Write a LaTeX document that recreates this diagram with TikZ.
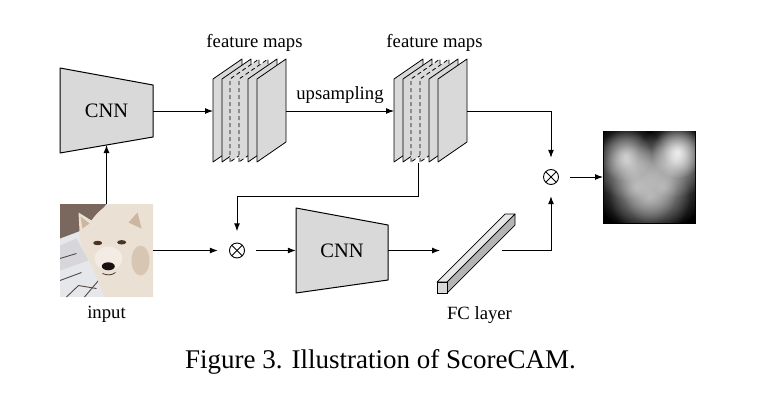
\documentclass[tikz,border=0pt]{standalone}
\usepackage{fontspec}
\setmainfont{Liberation Serif}
\usetikzlibrary{arrows.meta,positioning}
\definecolor{sheetgray}{HTML}{D9D9D9}
\definecolor{topgray}{HTML}{E8E8E8}
\definecolor{sidegray}{HTML}{B4B4B4}
\definecolor{snow}{HTML}{E6E7EB}
\definecolor{bark}{HTML}{7A685E}
\definecolor{fur}{HTML}{EAE0D3}
\definecolor{furshade}{HTML}{CDB6A0}
\definecolor{eyecol}{HTML}{4A3426}
\definecolor{nosecol}{HTML}{17110F}

\begin{document}
\begin{tikzpicture}[x=1pt,y=-1pt,
  lbl/.style={inner sep=0,font=\fontsize{18.7}{22}\selectfont},
  cnnlbl/.style={inner sep=0,font=\fontsize{20.5}{24}\selectfont},
  hold/.style={inner sep=0,outer sep=0},
  arr/.style={line width=1pt,-{Latex[length=8pt,width=6pt]}},
  sheet/.style={fill=sheetgray,draw=black,line width=0.8pt,line join=round},
  dsh/.style={dash pattern=on 4pt off 3pt},
  cnnbox/.style={fill=sheetgray,draw=black,line width=1pt,line join=round},
  mult/.style={circle,inner sep=0,minimum size=38,
    path picture={
      \draw[line width=0.9pt] (path picture bounding box.center) circle[radius=7.5pt];
      \draw[line width=0.9pt] ([shift={(45:7.5pt)}]path picture bounding box.center)
        -- ([shift={(225:7.5pt)}]path picture bounding box.center);
      \draw[line width=0.9pt] ([shift={(135:7.5pt)}]path picture bounding box.center)
        -- ([shift={(315:7.5pt)}]path picture bounding box.center);}},
  twig/.style={draw=bark!70!black,line width=0.9pt}]
  \useasboundingbox (0,0) rectangle (757,415);

  % stacks of feature maps
  \foreach \sx in {213,394}
  \foreach \o/\ls in {0/solid,9/solid,17/dsh,26/dsh,35/solid,44/solid}
  \filldraw[sheet,\ls] (\sx+\o,162) -- ++(0,-83) -- ++(29,-20) -- ++(0,83) -- cycle;
  \node[hold,minimum width=73,minimum height=103] (fm1) at (249.5,111) {};
  \node[hold,minimum width=73,minimum height=103] (fm2) at (430.5,111) {};
  \node[lbl,above=8pt of fm1,xshift=5pt] {feature maps};
  \node[lbl,above=8pt of fm2,xshift=4pt] {feature maps};

  % the two CNNs
  \filldraw[cnnbox] (60,68) -- (153,85) -- (153,137) -- (60,153) -- cycle;
  \node[cnnlbl,minimum width=93,minimum height=52] (cnn1) at (106.5,111) {CNN};
  \coordinate (cnn1in) at (106.5,145);
  \filldraw[cnnbox] (296,208) -- (388,225) -- (388,280) -- (296,293) -- cycle;
  \node[cnnlbl,minimum width=92,minimum height=55] (cnn2) at (342,250.5) {CNN};

  % input picture
  \node[hold,minimum size=93] (input) at (106.5,250.5) {};
  \begin{scope}[shift={(input.center)}]
    \clip (-46.5,-46.5) rectangle (46.5,46.5);
    \fill[snow] (-46.5,-46.5) rectangle (46.5,46.5);
    \fill[snow!85!gray] (-46.5,-5) -- (-30,-12) -- (-18,10) -- (-46.5,20) -- cycle;
    \fill[bark] (-46.5,-46.5) -- (0,-46.5) -- (-20,-22) -- (-46.5,-12) -- cycle;
    \draw[twig] (-46.5,8) -- (-30,3);
    \draw[twig] (-46.5,30) -- (-25,22);
    \draw[twig] (-40,46.5) -- (-28,35) -- (-10,38);
    \draw[twig] (-22,46.5) -- (-8,30);
    \fill[fur] (-2,46.5) -- (-15,14) .. controls (-24,0) and (-28,-10) .. (-27,-20)
      -- (-28,-38) -- (-15,-30) .. controls (-8,-40) and (0,-46.5) .. (8,-46.5)
      -- (46.5,-46.5) -- (46.5,46.5) -- cycle;
    \fill[furshade] (-26,-34) -- (-17,-27) -- (-24,-22) -- cycle;
    \fill[furshade] (22,-28) -- (31,-38) -- (35,-22) -- cycle;
    \fill[furshade,opacity=0.6] (34,10) ellipse[x radius=9,y radius=15];
    \fill[fur!60!white] (2,8) ellipse[x radius=14,y radius=12];
    \fill[eyecol] (-8.8,-7.5) ellipse[x radius=4.5,y radius=2.2];
    \fill[eyecol] (15.2,-8.2) ellipse[x radius=4.5,y radius=2.2];
    \fill[nosecol] (1.8,15.8) ellipse[x radius=6.5,y radius=4];
    \draw[eyecol,line width=0.8pt] (-4,23) .. controls (1,25) and (5,25) .. (9,22);
  \end{scope}

  % products
  \node[mult] (m1) at (237,250.5) {};
  \node[mult] (m2) at (551,177) {};

  % FC layer
  \filldraw[fill=topgray,draw=black,line width=0.7pt,line join=round]
    (437,282) -- (447,282) -- (515,214) -- (505,214) -- cycle;
  \filldraw[fill=sidegray,draw=black,line width=0.7pt,line join=round]
    (447,282) -- (447,293) -- (515,225) -- (515,214) -- cycle;
  \filldraw[fill=sheetgray,draw=black,line width=0.7pt] (437,282) rectangle (447,293);
  \node[hold,minimum width=62,minimum height=10] (fc) at (471,250.5) {};

  % heat map
  \node[hold,minimum size=93] (heat) at (649.5,177) {};
  \begin{scope}[shift={(heat.center)}]
    \fill[black] (-46.5,-46.5) rectangle (46.5,46.5);
    \clip (-45.5,-45.5) rectangle (45.5,45.5);
    \begin{scope}[blend mode=screen]
      \foreach \px/\py/\r/\g in {-23/-16/38/40,26/-18/38/35,-14/10/42/52,14/10/42/52,
        0/20/40/55,-24/-22/26/45,28/-25/26/15}
      \shade[inner color=black!\g,outer color=black] (\px,\py) circle[radius=\r];
    \end{scope}
  \end{scope}

  % connectors
  \draw[arr] (cnn1) -- (fm1);
  \draw[arr] (fm1) -- (fm2) node[lbl,midway,above=7pt] {upsampling};
  \draw[arr] (input) -- (cnn1in);
  \draw[arr] (input) -- (m1);
  \draw[arr] (m1) -- (cnn2);
  \draw[arr] (cnn2) -- (fc);
  \draw[arr] (fc.east) -| (m2);
  \draw[arr] (fm2) -| (m2);
  \coordinate (fb) at (418,162.5);
  \draw[arr] (fb) -- ++(0,33.5) -| (m1);
  \draw[arr] (m2) -- (heat);

  % labels
  \node[lbl,anchor=base] at (106.5,318) {input};
  \node[lbl,anchor=base] at (479.5,319) {FC layer};
  \node[font=\fontsize{27}{32}\selectfont,inner sep=0,anchor=base] at (380.5,368)
    {Figure 3. Illustration of ScoreCAM.};
\end{tikzpicture}
\end{document}
